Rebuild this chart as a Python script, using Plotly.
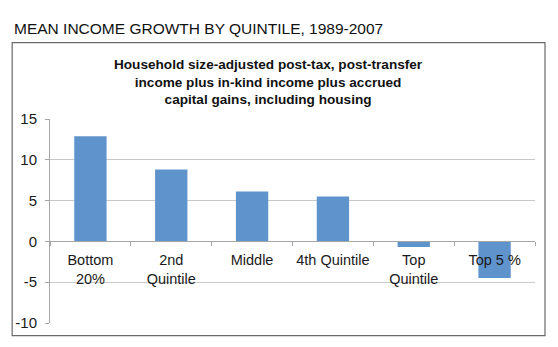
import plotly.graph_objects as go

# Mean income growth (%) by income group, 1989-2007
categories = ["Bottom<br>20%", "2nd<br>Quintile", "Middle", "4th Quintile", "Top<br>Quintile", "Top 5 %"]
growth = [12.9, 8.8, 6.1, 5.5, -0.7, -4.5]
y_ticks = [15, 10, 5, 0, -5, -10]
y_tick_labels = ["15", "10", "5", "0", "-5", "-10"]

BAR = "#5f93cb"
GRID = "#c9c9c9"
AXIS = "#a6a6a6"
FONT = "Liberation Sans, Arial, Helvetica, sans-serif"

fig = go.Figure(
    go.Bar(x=categories, y=growth, marker=dict(color=BAR, line=dict(width=0)), width=0.4)
)

fig.update_layout(
    width=558,
    height=347,
    margin=dict(l=50, r=23, t=119, b=24),
    paper_bgcolor="white",
    plot_bgcolor="white",
    showlegend=False,
    font=dict(family=FONT, color="#1a1a1a"),
    xaxis=dict(
        type="category",
        anchor="free",
        position=0.4,  # axis line sits on y = 0
        showline=True,
        linecolor=AXIS,
        linewidth=1,
        ticks="outside",
        tickson="boundaries",
        ticklen=4,
        tickcolor=AXIS,
        tickangle=0,
        ticklabelstandoff=5,
        showgrid=False,
        tickfont=dict(size=14.5, family=FONT, color="#1a1a1a"),
        range=[-0.5, 5.5],
    ),
    yaxis=dict(
        range=[-10, 15],
        tickvals=y_ticks,
        ticktext=y_tick_labels,
        showgrid=True,
        gridcolor=GRID,
        gridwidth=1,
        zeroline=False,
        showline=True,
        linecolor=AXIS,
        ticks="outside",
        ticklen=4,
        tickcolor=AXIS,
        ticklabelstandoff=5,
        tickfont=dict(size=15, family=FONT, color="#1a1a1a"),
    ),
    shapes=[
        # frame around the chart block
        dict(type="rect", xref="paper", yref="paper",
             x0=-0.078, x1=1.0206, y0=-0.062, y1=1.374,
             line=dict(color="#6a6a6a", width=1.2), fillcolor="rgba(0,0,0,0)",
             layer="below"),
    ],
    annotations=[
        dict(text="MEAN INCOME GROWTH BY QUINTILE, 1989-2007",
             xref="paper", yref="paper", x=-0.078, y=1.445, xanchor="left", yanchor="middle",
             showarrow=False,
             font=dict(size=15.5, family=FONT, color="#111111")),
        dict(text="<b>Household size-adjusted post-tax, post-transfer<br>"
                  "income plus in-kind income plus accrued<br>"
                  "capital gains, including housing</b>",
             xref="paper", yref="paper", x=0.45, y=1.18, xanchor="center", yanchor="middle",
             showarrow=False, align="center",
             font=dict(size=13.6, family=FONT, color="#111111")),
    ],
)

fig.write_html("out.html")
